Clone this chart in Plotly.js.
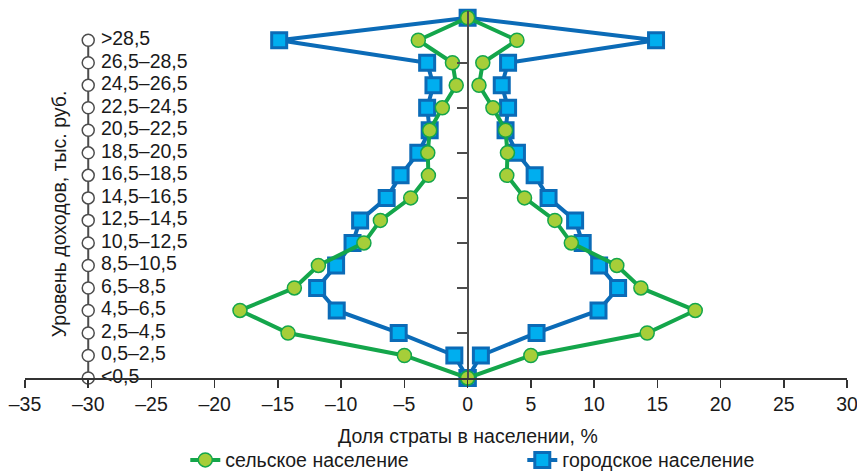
<!DOCTYPE html>
<html>
<head>
<meta charset="utf-8">
<script src="https://cdn.plot.ly/plotly-3.0.1.min.js"></script>
<style>html,body{margin:0;padding:0;background:#fff}#chart{width:857px;height:471px}</style>
</head>
<body>
<div id="chart"></div>
<script>
// Income strata (bottom to top)
const categories = ['<0,5','0,5–2,5','2,5–4,5','4,5–6,5','6,5–8,5','8,5–10,5','10,5–12,5','12,5–14,5','14,5–16,5','16,5–18,5','18,5–20,5','20,5–22,5','22,5–24,5','24,5–26,5','26,5–28,5','>28,5'];
// Share of stratum in population, % (mirrored on both sides)
const rural = [0, 5.0, 14.2, 18.0, 13.7, 11.8, 8.2, 6.9, 4.5, 3.1, 3.15, 3.0, 2.0, 0.9, 1.2, 3.9];
const urban = [0, 1.05, 5.45, 10.35, 11.9, 10.4, 9.1, 8.5, 6.4, 5.3, 3.9, 3.0, 3.2, 2.7, 3.2, 14.9];
const apexValue = 0;
const xTickVals = [-35,-30,-25,-20,-15,-10,-5,0,5,10,15,20,25,30];
const labelAxisX = -30;

const FONT = 'Liberation Sans, Arial, sans-serif';
const FS = 19.5;
const idx = categories.map((_, i) => i);
const apexY = categories.length;

function mirrored(vals) {
  const xs = [], ys = [];
  vals.forEach((v, i) => { xs.push(-v); ys.push(i); });
  xs.push(apexValue); ys.push(apexY);
  for (let i = vals.length - 1; i >= 0; i--) { xs.push(vals[i]); ys.push(i); }
  return {x: xs, y: ys};
}

const u = mirrored(urban), r = mirrored(rural);

const traces = [
  {
    x: categories.map(() => labelAxisX), y: idx,
    mode: 'lines+markers',
    line: {color: '#4d4d4d', width: 2},
    marker: {symbol: 'circle', size: 12, color: '#ffffff', line: {color: '#4d4d4d', width: 1.5}},
    showlegend: false, cliponaxis: false, hoverinfo: 'skip'
  },
  {
    x: categories.map(() => labelAxisX + 1.0), y: idx, text: categories,
    mode: 'text', textposition: 'middle right',
    textfont: {family: FONT, size: FS, color: '#1a1a1a'},
    showlegend: false, cliponaxis: false, hoverinfo: 'skip'
  },
  {
    x: u.x, y: u.y, name: 'городское население', mode: 'lines+markers',
    line: {color: '#0b6bb7', width: 4},
    marker: {symbol: 'square', size: 15, color: '#00aeef', line: {color: '#0b6bb7', width: 3}},
    cliponaxis: false
  },
  {
    x: r.x, y: r.y, name: 'сельское население', mode: 'lines+markers',
    line: {color: '#14a64b', width: 4},
    marker: {symbol: 'circle', size: 14, color: '#a6ce39', line: {color: '#14a64b', width: 1.5}},
    cliponaxis: false
  }
];

const layout = {
  width: 857, height: 471,
  margin: {l: 24.5, r: 10, t: 10.7, b: 93, autoexpand: false},
  paper_bgcolor: '#ffffff', plot_bgcolor: '#ffffff',
  font: {family: FONT, size: FS, color: '#1a1a1a'},
  hovermode: false,
  xaxis: {
    range: [-35, 30], showgrid: false, zeroline: false,
    showline: true, linecolor: '#333333', linewidth: 1.5,
    ticks: 'outside', ticklen: 8, tickwidth: 1.5, tickcolor: '#333333',
    tickvals: xTickVals, ticktext: xTickVals.map(v => v < 0 ? '–' + Math.abs(v) : String(v)),
    tickfont: {family: FONT, size: FS, color: '#1a1a1a'},
    ticklabeloverflow: 'allow'
  },
  yaxis: {
    range: [0, 16.3], showgrid: false, zeroline: false,
    anchor: 'free', position: 35/65, side: 'left',
    showline: true, linecolor: '#4d4d4d', linewidth: 2,
    ticks: 'outside', ticklen: 10, tickwidth: 2, tickcolor: '#4d4d4d',
    tickvals: [2,4,6,8,10,12,14], showticklabels: false
  },
  legend: {
    orientation: 'h', x: 0.195, xanchor: 'left', y: -0.224, yanchor: 'middle',
    font: {family: FONT, size: FS, color: '#1a1a1a'},
    traceorder: 'reversed', entrywidth: 292, entrywidthmode: 'pixels'
  },
  annotations: [
    {
      text: 'Уровень доходов, тыс. руб.', textangle: -90,
      xref: 'x', yref: 'y', x: -32.3, y: 7.28, showarrow: false,
      font: {family: FONT, size: FS, color: '#1a1a1a'}
    },
    {
      text: 'Доля страты в населении, %',
      xref: 'x', yref: 'paper', x: 0, y: -0.158, yanchor: 'middle', showarrow: false,
      font: {family: FONT, size: FS, color: '#1a1a1a'}
    }
  ]
};

Plotly.newPlot('chart', traces, layout, {displayModeBar: false, staticPlot: true});
</script>
</body>
</html>
